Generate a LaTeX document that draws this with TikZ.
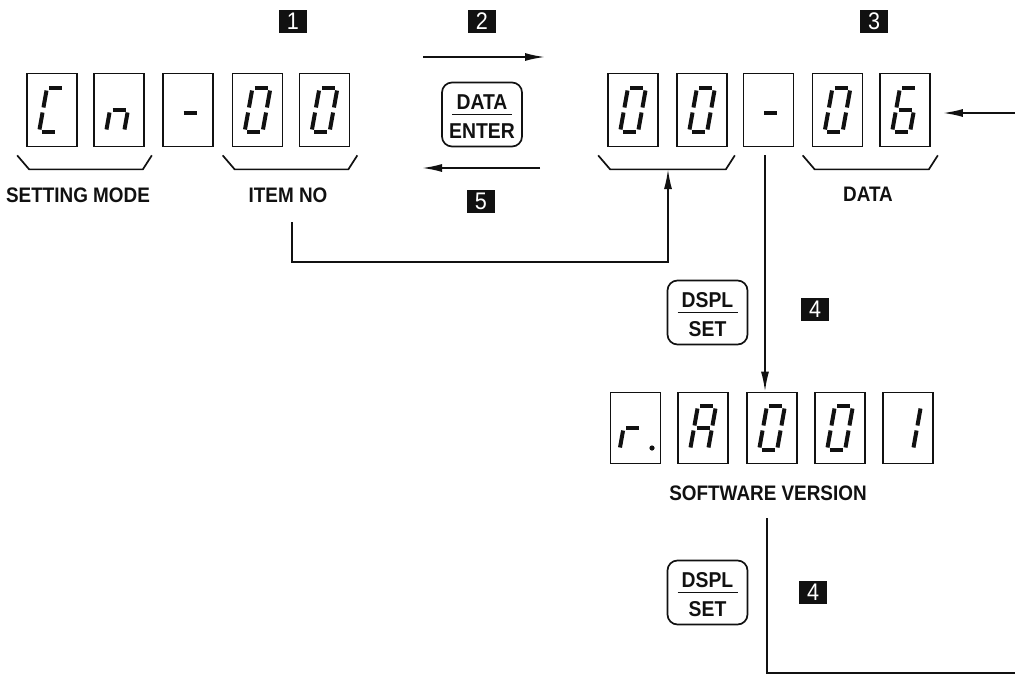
\documentclass[tikz,border=0pt]{standalone}
\usepackage{fontspec}
\setmainfont{Liberation Sans}[FakeStretch=0.9]
\usepackage{tikz}
\usetikzlibrary{arrows.meta,positioning,calc}
\definecolor{cInk}{HTML}{111111}
\tikzset{
  arrow/.style={-{Latex[length=20pt,width=8pt]}, line width=1.8pt, draw=cInk},
  wire/.style={line width=1.8pt, draw=cInk},
  dispbox/.style={draw=cInk, line width=1.7pt, minimum width=50pt, minimum height=73pt, inner sep=0pt},
  segline/.style={line width=4pt, draw=cInk},
  brk/.style={line width=1.7pt, draw=cInk},
  keybox/.style={draw=cInk, line width=1.7pt, rounded corners=10pt, minimum width=80pt, minimum height=64pt, inner sep=0pt},
  keytxt/.style={font=\fontsize{21.5}{22}\selectfont\bfseries, inner sep=0pt, text=cInk},
  keyrule/.style={line width=1.6pt, draw=cInk},
  lbl/.style={font=\fontsize{21}{22}\selectfont\bfseries, inner sep=0pt, text=cInk},
  badge/.style={fill=cInk, text=white, minimum width=28pt, minimum height=23pt, inner sep=0pt, font=\fontsize{24}{24}\selectfont},
}
% seven segments: a top, b/c right, d bottom, e/f left, g middle
\newcommand{\sgA}{\draw[segline] (-6.5,-22)--(6.5,-22);}
\newcommand{\sgB}{\draw[segline] (9,-19.5)--(9,-2.5);}
\newcommand{\sgC}{\draw[segline] (9,2.5)--(9,19.5);}
\newcommand{\sgD}{\draw[segline] (-6.5,22)--(6.5,22);}
\newcommand{\sgE}{\draw[segline] (-9,2.5)--(-9,19.5);}
\newcommand{\sgF}{\draw[segline] (-9,-19.5)--(-9,-2.5);}
\newcommand{\sgG}{\draw[segline] (-6.5,0)--(6.5,0);}
\newcommand{\digit}[2]{\begin{scope}[shift={(#1)},xslant=0.18] #2 \end{scope}}
\newcommand{\groupbrace}[2]{\draw[brk] ($(#1.south west)+(-9,8)$) -- ++(12,14) -- ($(#2.south east)+(-2,22)$) -- ++(9,-14);}
\newcommand{\keycap}[4]{%
  \node[keybox] (#1) at (#2) {};
  \node[keytxt] (#1-t) at ([yshift=12.5pt]#1.center) {#3};
  \node[keytxt] (#1-b) at ([yshift=-17pt]#1.center) {#4};
  \draw[keyrule] ([xshift=-30pt]#1.center) -- ([xshift=30pt]#1.center);}

\begin{document}
\begin{tikzpicture}[x=1pt,y=-1pt]
  \useasboundingbox (0,0) rectangle (1015,675);
  % Cn-00
  \node[dispbox] (m1) at (52,110){};
  \node[dispbox] (m2) at (119,110){};
  \node[dispbox] (m3) at (188,110){};
  \node[dispbox] (m4) at (257.5,110){};
  \node[dispbox] (m5) at (324.5,110){};
  \digit{m1}{\sgA\sgD\sgE\sgF}
  \digit{m2}{\sgC\sgE\sgG}
  \digit{$(m3)+(2,3)$}{\sgG}
  \digit{m4}{\sgA\sgB\sgC\sgD\sgE\sgF}
  \digit{m5}{\sgA\sgB\sgC\sgD\sgE\sgF}
  \groupbrace{m1}{m2} \groupbrace{m4}{m5}
  \node[lbl] (setmode) at (78,195) {SETTING MODE};
  \node[lbl] (itemno) at (288,195) {ITEM NO};
  % 00-06
  \node[dispbox] (d1) at (633,110){};
  \node[dispbox] (d2) at (702,110){};
  \node[dispbox] (d3) at (768.5,110){};
  \node[dispbox] (d4) at (837.5,110){};
  \node[dispbox] (d5) at (905,110){};
  \digit{d1}{\sgA\sgB\sgC\sgD\sgE\sgF}
  \digit{d2}{\sgA\sgB\sgC\sgD\sgE\sgF}
  \digit{$(d3)+(2,3)$}{\sgG}
  \digit{d4}{\sgA\sgB\sgC\sgD\sgE\sgF}
  \digit{d5}{\sgA\sgC\sgD\sgE\sgF\sgG}
  \groupbrace{d1}{d2} \groupbrace{d4}{d5}
  \node[lbl] (datalbl) at (868,194) {DATA};
  % r.A001
  \node[dispbox, minimum height=71pt] (v1) at (635.5,428){};
  \node[dispbox, minimum height=71pt] (v2) at (703,428){};
  \node[dispbox, minimum height=71pt] (v3) at (772,428){};
  \node[dispbox, minimum height=71pt] (v4) at (840,428){};
  \node[dispbox, minimum height=71pt] (v5) at (908,428){};
  \digit{$(v1)+(-3,0)$}{\sgE\sgG}
  \fill[cInk] ([xshift=16.5pt,yshift=-20pt]v1.center) circle (2.6);
  \digit{v2}{\sgA\sgB\sgC\sgE\sgF\sgG}
  \digit{v3}{\sgA\sgB\sgC\sgD\sgE\sgF}
  \digit{v4}{\sgA\sgB\sgC\sgD\sgE\sgF}
  \digit{v5}{\sgB\sgC}
  \node[lbl] (swver) at (768,493) {SOFTWARE VERSION};
  % keys and step numbers
  \keycap{kenter}{482,114.5}{DATA}{ENTER}
  \keycap{kdspl}{707.5,312.5}{DSPL}{SET}
  \keycap{kdsplb}{707.5,592.5}{DSPL}{SET}
  \node[badge] (b1) at (293,21) {1};
  \node[badge] (b2) at (482,21) {2};
  \node[badge] (b3) at (874,21) {3};
  \node[badge] (b4) at (815,309) {4};
  \node[badge] (b4b) at (813,592) {4};
  \node[badge] (b5) at (481,201) {5};
  % connectors
  \coordinate (fwdA) at (423,57);  \coordinate (fwdB) at (545,57);
  \coordinate (backA) at (540,168); \coordinate (backB) at (422,168);
  \draw[arrow] (fwdA) -- (fwdB);
  \draw[arrow] (backA) -- (backB);
  \coordinate (loopA) at (292,222); \coordinate (loopB) at (668,169);
  \draw[arrow] (loopA) -- ++(0,40) -| (loopB);
  \coordinate (dropA) at (765,155);
  \draw[arrow] (dropA) -- (dropA |- v3.north);
  \coordinate (retA) at (767,518); \coordinate (retB) at (1015,673);
  \draw[wire] (retA) |- (retB);
  \coordinate (retC) at (1015,113);
  \draw[arrow, shorten >=12pt] (retC) -- (retC -| d5.east);
\end{tikzpicture}
\end{document}
